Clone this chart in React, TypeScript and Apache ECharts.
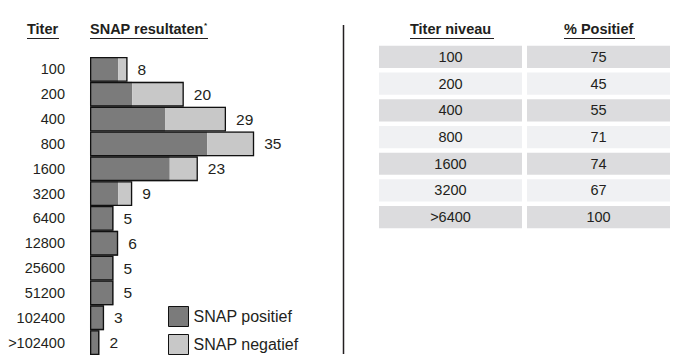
import React, { useEffect, useRef } from "react";
import * as echarts from "echarts";

const titers = ["100", "200", "400", "800", "1600", "3200", "6400", "12800", "25600", "51200", "102400", ">102400"];
const snapPositive = [6, 9, 16, 25, 17, 6, 5, 6, 5, 5, 3, 2];
const snapNegative = [2, 11, 13, 10, 6, 3, 0, 0, 0, 0, 0, 0];
const snapTotal = [8, 20, 29, 35, 23, 9, 5, 6, 5, 5, 3, 2];

const tableTiters = ["100", "200", "400", "800", "1600", "3200", ">6400"];
const pctPositive = [75, 45, 55, 71, 74, 67, 100];

const FONT = "'Liberation Sans', Arial, Helvetica, sans-serif";
const INK = "#231f20";

export default function App() {
  const ref = useRef<HTMLDivElement>(null);
  useEffect(() => {
    const chart = echarts.init(ref.current!, null, { renderer: "svg" });
    const tableData = tableTiters.map((t, i) => [i, t, pctPositive[i]]);
    const headStyle = { fontSize: 14.5, fontWeight: "bold", fontFamily: FONT, fill: INK };
    const option: any = {
      animation: false,
      textStyle: { fontFamily: FONT },
      grid: [
        { left: 90, top: 57, height: 298, width: 234.5 },
        { left: 379, top: 43.6, width: 291, height: 186.9 },
      ],
      xAxis: [
        { type: "value", gridIndex: 0, min: 0, max: 50, show: false },
        { type: "value", gridIndex: 1, min: 0, max: 2, show: false },
      ],
      yAxis: [
        {
          type: "category",
          gridIndex: 0,
          data: titers,
          inverse: true,
          axisLine: { show: false },
          axisTick: { show: false },
          axisLabel: { margin: 25, fontSize: 14.5, color: INK, fontFamily: FONT },
        },
        {
          type: "category",
          gridIndex: 1,
          data: tableTiters,
          inverse: true,
          show: false,
        },
      ],
      legend: {
        orient: "vertical",
        left: 168,
        top: 306,
        padding: 0,
        icon: "rect",
        itemWidth: 20,
        itemHeight: 20,
        itemGap: 7,
        textStyle: { fontSize: 16, color: INK, fontFamily: FONT },
        data: [
          { name: "SNAP positief", itemStyle: { color: "#7b7b7b", borderColor: "#111", borderWidth: 1 } },
          { name: "SNAP negatief", itemStyle: { color: "#c8c8c8", borderColor: "#111", borderWidth: 1 } },
        ],
      },
      series: [
        {
          name: "SNAP positief",
          type: "bar",
          stack: "snap",
          data: snapPositive,
          barCategoryGap: "0%",
          barGap: "-100%",
          itemStyle: { color: "#7b7b7b" },
        },
        {
          name: "SNAP negatief",
          type: "bar",
          stack: "snap",
          data: snapNegative,
          barCategoryGap: "0%",
          barGap: "-100%",
          itemStyle: { color: "#c8c8c8" },
        },
        {
          name: "totaal",
          type: "bar",
          data: snapTotal,
          barCategoryGap: "0%",
          barGap: "-100%",
          z: 5,
          itemStyle: { color: "rgba(0,0,0,0)", borderColor: "#111", borderWidth: 1.3 },
          label: { show: true, position: "right", distance: 10, fontSize: 15.5, color: INK, fontFamily: FONT },
          silent: true,
        },
        {
          type: "custom",
          xAxisIndex: 1,
          yAxisIndex: 1,
          data: tableData,
          renderItem: (params: any, api: any) => {
            const row = api.value(0);
            const [x0, yc] = api.coord([0, row]);
            const [x1] = api.coord([1, row]);
            const [x2] = api.coord([2, row]);
            const band = api.size([0, 1])[1];
            const h = band * 0.83;
            const fill = row % 2 === 0 ? "#dcdcde" : "#f0f1f3";
            const y = yc - h / 2;
            return {
              type: "group",
              children: [
                { type: "rect", shape: { x: x0, y, width: x1 - 2.5 - x0, height: h }, style: { fill } },
                { type: "rect", shape: { x: x1 + 2.5, y, width: x2 - x1 - 2.5, height: h }, style: { fill } },
                {
                  type: "text",
                  style: {
                    text: tableTiters[row],
                    x: (x0 + x1 - 2.5) / 2,
                    y: yc,
                    align: "center",
                    verticalAlign: "middle",
                    fontSize: 14.5,
                    fontFamily: FONT,
                    fill: INK,
                  },
                },
                {
                  type: "text",
                  style: {
                    text: String(pctPositive[row]),
                    x: (x1 + 2.5 + x2) / 2,
                    y: yc,
                    align: "center",
                    verticalAlign: "middle",
                    fontSize: 14.5,
                    fontFamily: FONT,
                    fill: INK,
                  },
                },
              ],
            };
          },
        },
      ],
      graphic: [
        { type: "text", left: 27, top: 21, style: { text: "Titer", ...headStyle } },
        { type: "line", shape: { x1: 27, y1: 38.5, x2: 59, y2: 38.5 }, style: { stroke: INK, lineWidth: 1 } },
        { type: "text", left: 90, top: 21, style: { text: "SNAP resultaten", ...headStyle } },
        { type: "text", left: 204, top: 21, style: { text: "*", fontSize: 8, fontWeight: "bold", fontFamily: FONT, fill: INK } },
        { type: "line", shape: { x1: 90, y1: 38.5, x2: 208, y2: 38.5 }, style: { stroke: INK, lineWidth: 1 } },
        { type: "line", shape: { x1: 343.5, y1: 25, x2: 343.5, y2: 354 }, style: { stroke: INK, lineWidth: 1.5 } },
        { type: "text", left: 410, top: 21, style: { text: "Titer niveau", ...headStyle } },
        { type: "line", shape: { x1: 410, y1: 38.5, x2: 494, y2: 38.5 }, style: { stroke: INK, lineWidth: 1 } },
        { type: "text", left: 564, top: 21, style: { text: "% Positief", ...headStyle } },
        { type: "line", shape: { x1: 564, y1: 38.5, x2: 635, y2: 38.5 }, style: { stroke: INK, lineWidth: 1 } },
      ],
    };
    chart.setOption(option);
    return () => chart.dispose();
  }, []);
  return (
    <div
      ref={ref}
      style={{ position: "fixed", left: 0, top: 0, width: 673, height: 364, background: "#fff" }}
    />
  );
}
